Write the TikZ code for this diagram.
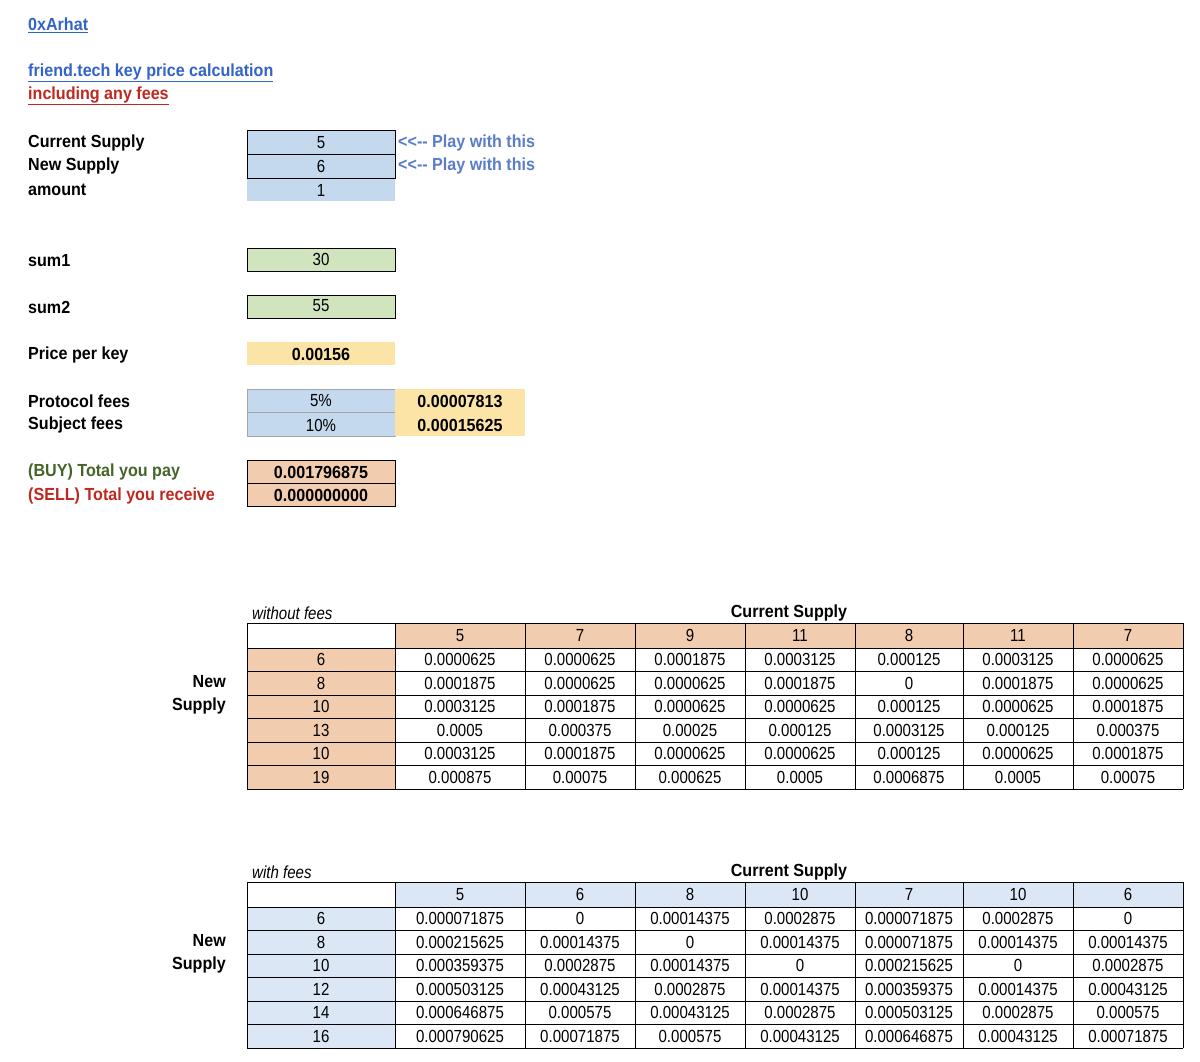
\documentclass[tikz,border=0pt]{standalone}
\usepackage{fontspec}
\setmainfont[FakeStretch=0.86,BoldFeatures={FakeStretch=0.92}]{Liberation Sans}
\definecolor{cblue}{RGB}{197,217,238}
\definecolor{cgreen}{RGB}{208,228,190}
\definecolor{cyel}{RGB}{251,228,165}
\definecolor{cor}{RGB}{242,204,174}
\definecolor{tblue}{RGB}{220,231,245}
\definecolor{lnk}{RGB}{50,100,200}
\definecolor{tred}{RGB}{190,40,30}
\definecolor{tgreen}{RGB}{70,100,40}
\definecolor{pl}{RGB}{90,125,200}
\newcommand\fs{\fontsize{17.5}{20}\selectfont}
\begin{document}
\begin{tikzpicture}[x=1pt,y=-1pt,
  txt/.style={font=\fs,inner sep=0pt},
  bt/.style={font=\fs\bfseries,inner sep=0pt},
  lab/.style={font=\fs\bfseries,inner sep=0pt,anchor=west},
  cellb/.style={draw=black,line width=0.8pt},
  celll/.style={draw=gray!70,line width=0.5pt}]
\useasboundingbox (0,0) rectangle (1200,1062);
\fill[white] (0,0) rectangle (1200,1062);
% titles
\node[lab,text=lnk] (t0) at (28,25) {\underline{0xArhat}};
\node[lab,text=lnk] (t1) at (28,73) {\underline{friend.tech key price calculation}};
\node[lab,text=tred] (t2) at (28,96) {\underline{including any fees}};
% labels
\node[lab] (l1) at (28,143) {Current Supply};
\node[lab] (l2) at (28,166) {New Supply};
\node[lab] (l3) at (28,190) {amount};
\node[lab] (l4) at (28,261) {sum1};
\node[lab] (l5) at (28,307) {sum2};
\node[lab] (l6) at (28,355) {Price per key};
\node[lab] (l7) at (28,401) {Protocol fees};
\node[lab] (l8) at (28,425) {Subject fees};
\node[lab,text=tgreen] (l9) at (28,472) {(BUY) Total you pay};
\node[lab,text=tred] (l10) at (28,496) {(SELL) Total you receive};
% cells
\fill[cblue] (247,130) rectangle (395,201);
\draw[cellb] (247,130) rectangle (395,154);
\draw[cellb] (247,154) rectangle (395,178);
\node[txt] (v1) at (321,143) {5};
\node[txt] (v2) at (321,166) {6};
\node[txt] (v3) at (321,190) {1};
\node[lab,text=pl] (p1) at (398,143) {<{}<-{}- Play with this};
\node[lab,text=pl] (p2) at (398,166) {<{}<-{}- Play with this};
\filldraw[fill=cgreen,cellb] (247,248) rectangle (395,271);
\node[txt] (v4) at (321,259) {30};
\filldraw[fill=cgreen,cellb] (247,295) rectangle (395,318);
\node[txt] (v5) at (321,306) {55};
\fill[cyel] (247,342) rectangle (395,365);
\node[bt] (v6) at (321,354) {0.00156};
\filldraw[fill=cblue,celll] (247,389) rectangle (395,412);
\filldraw[fill=cblue,celll] (247,412) rectangle (395,436);
\node[txt] (v7) at (321,401) {5\%};
\node[txt] (v8) at (321,425) {10\%};
\fill[cyel] (395,389) rectangle (525,436);
\node[bt] (v9) at (460,401) {0.00007813};
\node[bt] (v10) at (460,425) {0.00015625};
\filldraw[fill=cor,cellb] (247,460) rectangle (395,483);
\filldraw[fill=cor,cellb] (247,483) rectangle (395,506);
\node[bt] (v11) at (321,472) {0.001796875};
\node[bt] (v12) at (321,495) {0.000000000};
% ---------- table generator
\def\xs{{247,395,525,635,745,855,963,1073,1183}}
\newcommand\mktable[6]{%
  \pgfmathsetmacro\ty{#1}
  \node[font=\fs\itshape,inner sep=0pt,anchor=west] at (252,\ty-10) {#6};
  \node[bt] at (789,\ty-10) {Current Supply};
  \node[bt,anchor=east,align=right] at (226,\ty+72) {New\\[3pt]Supply};
  \fill[#2] (395,\ty) rectangle (1183,\ty+25);
  \fill[#2] (247,\ty+25) rectangle (395,\ty+166);
  \foreach \h [count=\i] in {#3} {
    \pgfmathsetmacro\xa{\xs[\i]}\pgfmathsetmacro\xb{\xs[\i+1]}
    \node[txt] at ({(\xa+\xb)/2},\ty+12.5) {\h};}
  \foreach \h [count=\j] in {#4} {
    \node[txt] at (321,{\ty+25+(\j-0.5)*23.5}) {\h};}
  \foreach \r [count=\j] in {#5} {
    \foreach \v [count=\i] in \r {
      \pgfmathsetmacro\xa{\xs[\i]}\pgfmathsetmacro\xb{\xs[\i+1]}
      \node[txt] at ({(\xa+\xb)/2},{\ty+25+(\j-0.5)*23.5}) {\v};}}
  \foreach \k in {0,...,8} {\pgfmathsetmacro\xa{\xs[\k]}\draw[line width=0.7pt] (\xa,\ty) -- (\xa,\ty+166);}
  \draw[line width=0.7pt] (247,\ty) -- (1183,\ty);
  \draw[line width=0.7pt] (247,\ty+25) -- (1183,\ty+25);
  \foreach \j in {1,...,6} {\draw[line width=0.7pt] (247,{\ty+25+\j*23.5}) -- (1183,{\ty+25+\j*23.5});}
}
\mktable{623}{cor}{5,7,9,11,8,11,7}{6,8,10,13,10,19}{%
{0.0000625,0.0000625,0.0001875,0.0003125,0.000125,0.0003125,0.0000625},%
{0.0001875,0.0000625,0.0000625,0.0001875,0,0.0001875,0.0000625},%
{0.0003125,0.0001875,0.0000625,0.0000625,0.000125,0.0000625,0.0001875},%
{0.0005,0.000375,0.00025,0.000125,0.0003125,0.000125,0.000375},%
{0.0003125,0.0001875,0.0000625,0.0000625,0.000125,0.0000625,0.0001875},%
{0.000875,0.00075,0.000625,0.0005,0.0006875,0.0005,0.00075}}{without fees}
\mktable{882}{tblue}{5,6,8,10,7,10,6}{6,8,10,12,14,16}{%
{0.000071875,0,0.00014375,0.0002875,0.000071875,0.0002875,0},%
{0.000215625,0.00014375,0,0.00014375,0.000071875,0.00014375,0.00014375},%
{0.000359375,0.0002875,0.00014375,0,0.000215625,0,0.0002875},%
{0.000503125,0.00043125,0.0002875,0.00014375,0.000359375,0.00014375,0.00043125},%
{0.000646875,0.000575,0.00043125,0.0002875,0.000503125,0.0002875,0.000575},%
{0.000790625,0.00071875,0.000575,0.00043125,0.000646875,0.00043125,0.00071875}}{with fees}
\end{tikzpicture}
\end{document}
